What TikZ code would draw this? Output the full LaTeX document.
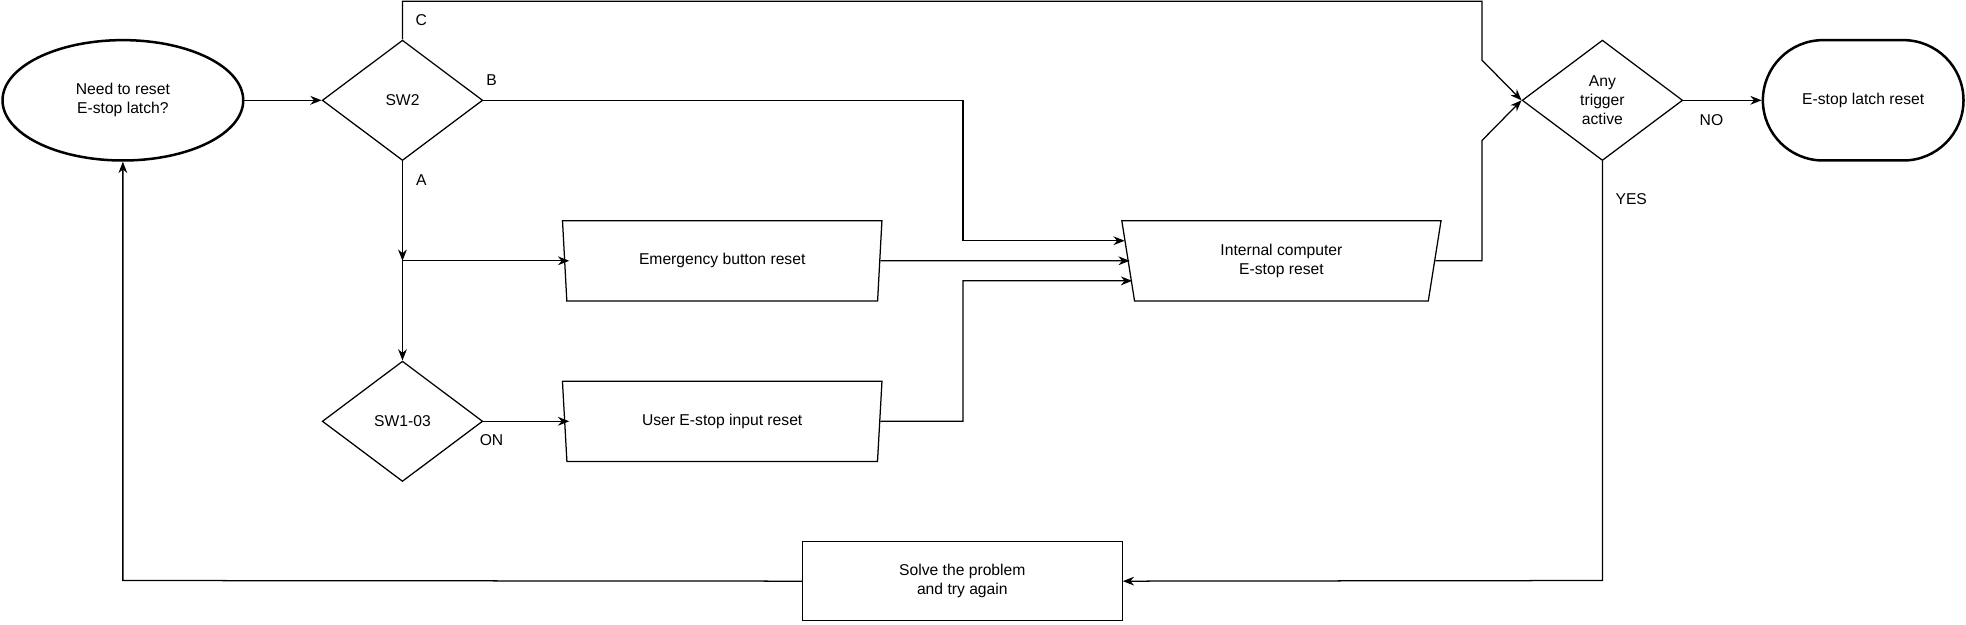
\documentclass[tikz,border=0pt]{standalone}
\usepackage{fontspec}
\setmainfont{Liberation Sans}
\usetikzlibrary{shapes.geometric,arrows.meta}
\begin{document}
\begin{tikzpicture}[x=1pt,y=-1pt,
  every node/.style={font=\fontsize{12.5}{15}\selectfont,align=center,inner sep=0pt},
  base/.style={draw,line width=1pt},
  dia/.style={base,diamond,minimum width=128pt,minimum height=96pt,aspect=1.33},
  trap/.style={base,trapezium,trapezium stretches=true,shape border rotate=180,trapezium left angle=81,trapezium right angle=81,minimum width=255pt,minimum height=64pt},
  arr/.style={line width=1pt,-{Stealth[length=9pt,width=7pt]}},
  lbl/.style={font=\fontsize{12.5}{15}\selectfont}]
\useasboundingbox (0,0) rectangle (1568,498);
\node[draw,line width=2pt,ellipse,minimum width=192pt,minimum height=96pt] (start) at (98,80) {Need to reset\\E-stop latch?};
\node[dia,minimum width=128pt,minimum height=96pt] (sw2) at (321,80) {SW2};
\node[trap] (emb) at (576,208) {Emergency button reset};
\node[trap] (usr) at (576,336) {User E-stop input reset};
\node[dia] (sw1) at (321,336) {SW1-03};
\node[trap] (int) at (1022,208) {Internal computer\\E-stop reset};
\node[dia] (any) at (1278,80) {Any\\trigger\\active};
\node[draw,line width=2pt,rounded corners=48pt,minimum width=160pt,minimum height=96pt] (end) at (1486,80) {E-stop latch reset};
\node[base,minimum width=255pt,minimum height=63pt] (solve) at (767.5,463.5) {Solve the problem\\and try again};
\coordinate (split) at (321,208);
\node[lbl] at (336,16) {C};
\node[lbl] at (392,64) {B};
\node[lbl] at (336,144) {A};
\node[lbl] at (392,351) {ON};
\node[lbl] at (1365,96) {NO};
\node[lbl] at (1301,159) {YES};
\draw[arr] (start.east) -- (sw2.west);
\draw[arr] (sw2.north) -- (321,1) -- (1182,1) -- (1182,48) -- (any.west);
\draw[arr] (sw2.east) -- (768,80) -- (768,192) -- (897,192);
\draw[arr] (sw2.south) -- (split);
\draw[arr] (split) -- (454,208);
\draw[arr] (split) -- (sw1.north);
\draw[arr] (emb.east) -- (901,208);
\draw[arr] (sw1.east) -- (454,336);
\draw[arr] (usr.east) -- (768,336) -- (768,224) -- (903,224);
\draw[arr] (int.east) -- (1182,208) -- (1182,112) -- (any.west);
\draw[arr] (any.east) -- (end.west);
\draw[arr] (any.south) -- (1278,463) -- (solve.east);
\draw[arr] (solve.west) -- (98,463) -- (start.south);
\end{tikzpicture}
\end{document}
